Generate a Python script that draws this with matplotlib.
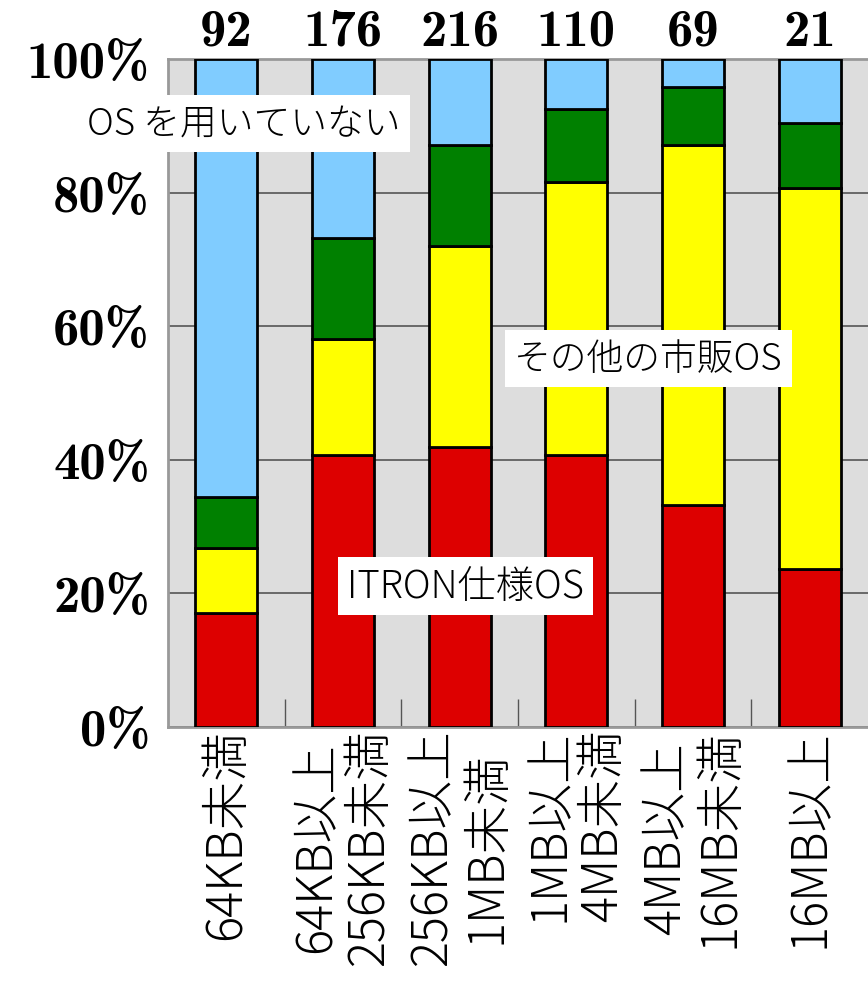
import matplotlib
matplotlib.use("Agg")
import matplotlib.pyplot as plt
import numpy as np

plt.rcParams['font.family'] = ['Noto Sans CJK JP', 'DejaVu Sans']

# memory size classes
categories = ["64KB未満",
              "64KB以上\n256KB未満",
              "256KB以上\n1MB未満",
              "1MB以上\n4MB未満",
              "4MB以上\n16MB未満",
              "16MB以上"]
counts = [92, 176, 216, 110, 69, 21]

# shares in % (bottom to top)
itron = [17.1, 40.7, 41.9, 40.7, 33.2, 23.7]
other_os = [9.7, 17.4, 30.1, 40.9, 53.9, 57.0]
inhouse = [7.6, 15.1, 15.1, 10.9, 8.7, 9.7]
no_os = [65.6, 26.8, 12.9, 7.5, 4.2, 9.6]

series = [itron, other_os, inhouse, no_os]
colors = ["#dd0000", "#ffff00", "#008000", "#80ccff"]

num_family = ["cmb10", "DejaVu Serif"]

fig = plt.figure(figsize=(8.68, 9.95), dpi=100)
ax = fig.add_axes([168/868, 267/995, 700/868, 668/995])
ax.set_facecolor("#dddddd")
ax.set_axisbelow(True)
ax.yaxis.grid(True, color="#555555", linewidth=1.2)

x = np.arange(len(categories))
bottom = np.zeros(len(categories))
for vals, c in zip(series, colors):
    ax.bar(x, vals, bottom=bottom, width=0.53, color=c,
           edgecolor="black", linewidth=2, zorder=3)
    bottom += np.array(vals)

ax.set_xlim(-0.5, 5.5)
ax.set_ylim(0, 100)

yt = [0, 20, 40, 60, 80, 100]
ax.set_yticks(yt)
ax.set_yticklabels(["%d%%" % v for v in yt], family=num_family, fontsize=38)
ax.tick_params(axis="y", length=0, pad=13)

ax.set_xticks(x)
ax.set_xticklabels(categories, rotation=90, fontsize=35, linespacing=1.05,
                   fontweight="light", va="top", ha="center",
                   multialignment="center")
ax.tick_params(axis="x", which="major", length=0, pad=1)
ax.set_xticks(x[:-1] + 0.5, minor=True)
ax.tick_params(axis="x", which="minor", direction="in", length=20,
               width=1, color="#555555")

for s in ["left", "bottom", "top"]:
    ax.spines[s].set_color("#999999")
    ax.spines[s].set_linewidth(2)
ax.spines["right"].set_visible(False)

for xi, n in zip(x, counts):
    ax.annotate("%d" % n, (xi, 100), xytext=(0, 3),
                textcoords="offset points", ha="center", va="bottom",
                family=num_family, fontsize=38, annotation_clip=False)

box = dict(facecolor="white", edgecolor="none", boxstyle="square,pad=0.25")
ax.text(0.15, 90.3, "OS を用いていない", fontsize=26.5, fontweight="light",
        ha="center", va="center", bbox=box, zorder=5)
ax.text(3.62, 55.2, "その他の市販OS", fontsize=26.5, fontweight="light",
        ha="center", va="center", bbox=box, zorder=5)
ax.text(2.05, 21.1, "ITRON仕様OS", fontsize=27.5, fontweight="light",
        ha="center", va="center", bbox=box, zorder=5)

fig.savefig("out.png", dpi=100)
